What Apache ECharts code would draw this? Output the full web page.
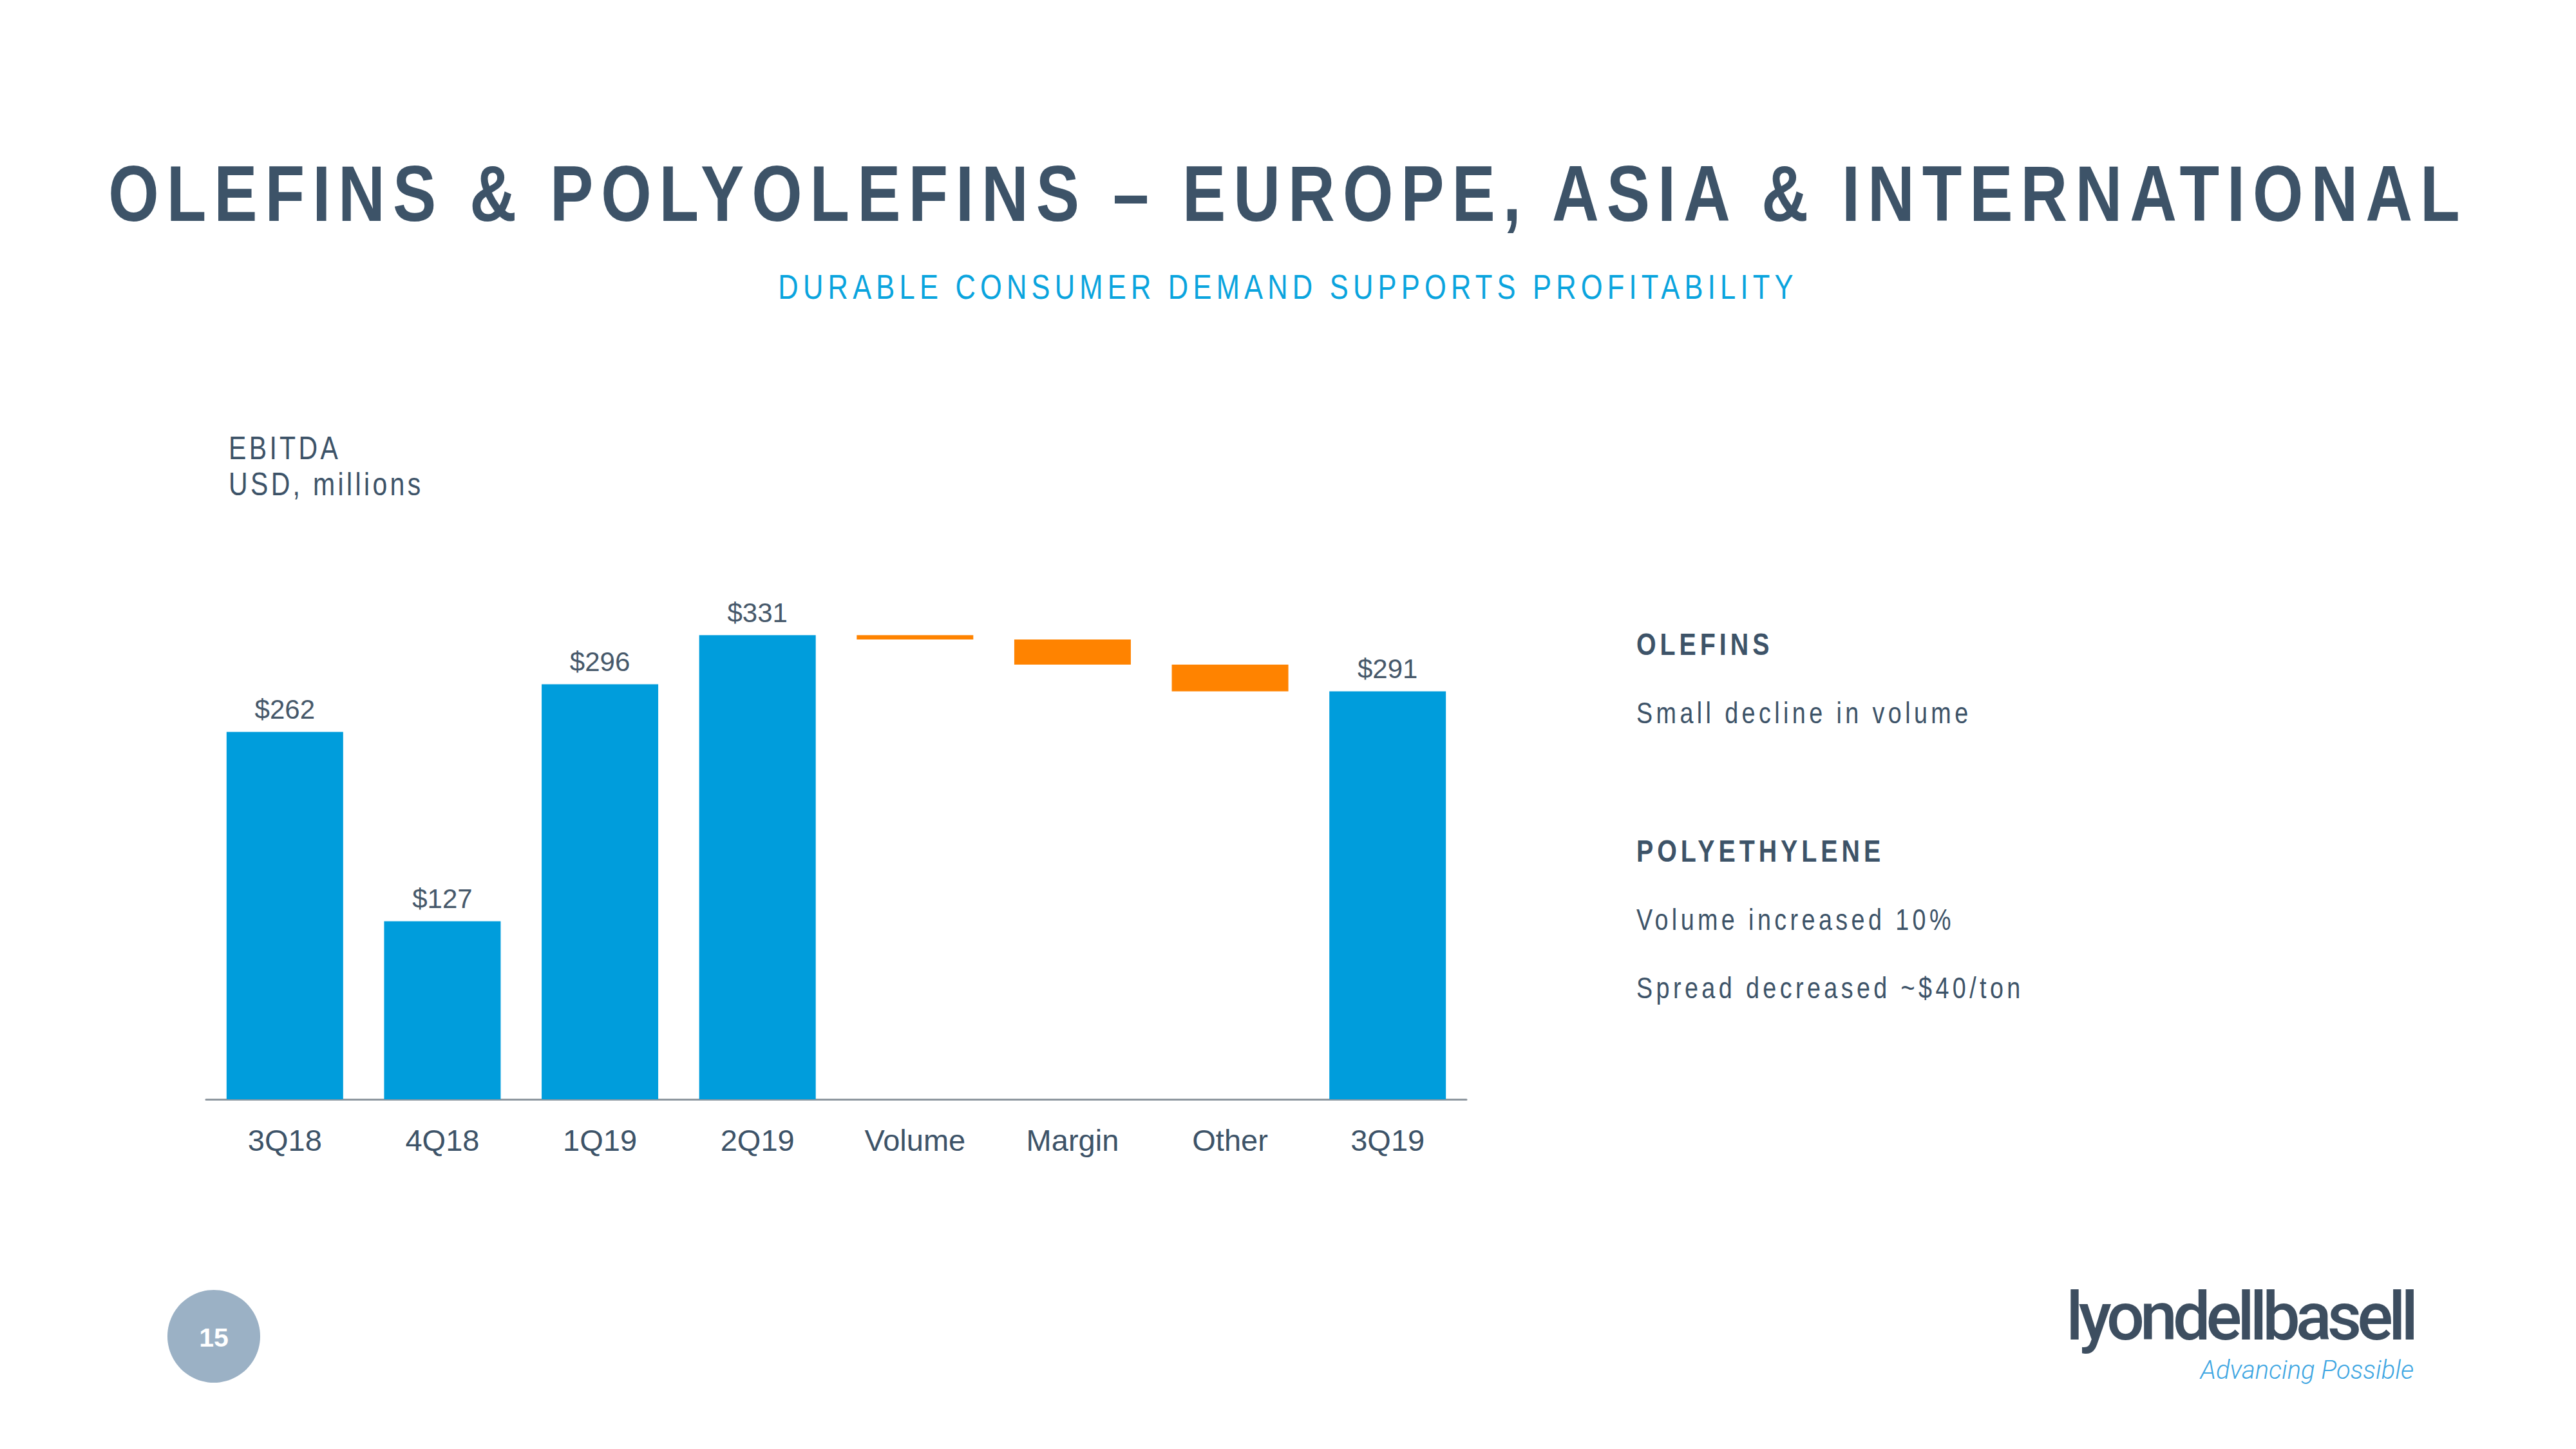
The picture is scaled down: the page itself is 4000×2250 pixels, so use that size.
<!DOCTYPE html>
<html>
<head>
<meta charset="utf-8">
<script src="https://cdn.jsdelivr.net/npm/echarts@6/dist/echarts.min.js"></script>
<style>
  html, body { margin: 0; padding: 0; background: #ffffff; }
  #c { width: 4000px; height: 2250px; }
  /* letter spacing (in unscaled units) for the slide texts */
  #c svg text[style*="123px"] { letter-spacing: 14.6px; }
  #c svg text[style*="53px"] { letter-spacing: 8.8px; }
  #c svg text[style*="50px"] { letter-spacing: 5.3px; }
  #c svg text[style*="48px"] { letter-spacing: 7.3px; }
  #c svg text[style*="46px"] { letter-spacing: 6.6px; }
  #c svg text[style*="104px"] { letter-spacing: -7px; }
</style>
</head>
<body>
<div id="c"></div>
<script>
// ---- data ----
const categories = ['3Q18', '4Q18', '1Q19', '2Q19', 'Volume', 'Margin', 'Other', '3Q19'];
const totals     = [262, 127, 296, 331, null, null, null, 291];
const changes    = [null, null, null, null, -3, -18, -19, null];
const titleText    = 'OLEFINS & POLYOLEFINS – EUROPE, ASIA & INTERNATIONAL';
const subtitleText = 'DURABLE CONSUMER DEMAND SUPPORTS PROFITABILITY';
const unitLines    = ['EBITDA', 'USD, millions'];
const noteHeads    = ['OLEFINS', 'POLYETHYLENE'];
const noteLines    = ['Small decline in volume', 'Volume increased 10%', 'Spread decreased ~$40/ton'];

// ---- waterfall helpers built from the data ----
const baseData = [], totalData = [], deltaData = [];
let running = 0;
categories.forEach((c, i) => {
  if (totals[i] != null) {
    running = totals[i];
    baseData.push('-'); totalData.push(totals[i]); deltaData.push('-');
  } else {
    const d = changes[i];
    const next = running + d;
    baseData.push(Math.min(running, next));
    totalData.push('-');
    deltaData.push(Math.abs(d));
    running = next;
  }
});

const SANS = "'Liberation Sans', Arial, Helvetica, sans-serif";
const SLATE = '#3D5368';
const NX = 0.82; // horizontal condensing to mimic a narrow face

function txt(x, y, text, size, opts) {
  opts = opts || {};
  return {
    type: 'text', x: x, y: y, scaleX: opts.scaleX == null ? NX : opts.scaleX, originX: 0, originY: 0,
    style: {
      text: text, fill: opts.fill || SLATE, fontSize: size,
      fontWeight: opts.weight || 'normal', fontStyle: opts.style || 'normal',
      fontFamily: opts.family || SANS,
      textAlign: opts.align || 'left', textVerticalAlign: 'middle'
    }
  };
}

const chart = echarts.init(document.getElementById('c'), null, { renderer: 'svg', width: 4000, height: 2250 });
chart.setOption({
  animation: false,
  backgroundColor: '#ffffff',
  grid: { left: 320, width: 1957, top: 945, bottom: 543, containLabel: false },
  xAxis: {
    type: 'category',
    data: categories,
    axisLine: { show: true, lineStyle: { color: '#8E979F', width: 3 } },
    axisTick: { show: false },
    axisLabel: { color: SLATE, fontSize: 47, fontFamily: SANS, margin: 40 }
  },
  yAxis: { type: 'value', min: 0, max: 350, show: false, splitLine: { show: false } },
  series: [
    {
      name: 'base', type: 'bar', stack: 'w', data: baseData, barWidth: 181,
      itemStyle: { color: 'rgba(0,0,0,0)' }, silent: true
    },
    {
      name: 'EBITDA', type: 'bar', stack: 'w', data: totalData, barWidth: 181,
      itemStyle: { color: '#009DDC' },
      label: {
        show: true, position: 'top', distance: 14,
        color: '#46586A', fontSize: 42, fontFamily: SANS,
        formatter: p => '$' + p.value
      }
    },
    {
      name: 'change', type: 'bar', stack: 'w', data: deltaData, barWidth: 181,
      itemStyle: { color: '#FF8300' }
    }
  ],
  graphic: [
    txt(2000, 300, titleText, 123, { weight: 'bold', align: 'center' }),
    txt(2000, 445, subtitleText, 53, { fill: '#0AA4DE', align: 'center' }),
    txt(355, 696, unitLines[0], 50),
    txt(355, 752, unitLines[1], 50),
    txt(2541, 1000, noteHeads[0], 48, { weight: 'bold' }),
    txt(2541, 1107, noteLines[0], 46),
    txt(2541, 1321, noteHeads[1], 48, { weight: 'bold' }),
    txt(2541, 1428, noteLines[1], 46),
    txt(2541, 1534, noteLines[2], 46),
    { type: 'circle', shape: { cx: 332, cy: 2075, r: 72 }, style: { fill: '#9BB1C5' } },
    txt(332, 2077, '15', 41, { fill: '#ffffff', weight: 'bold', align: 'center', scaleX: 1 }),
    txt(3748, 2044, 'lyondellbasell', 104, { fill: '#3D4E60', weight: 500, family: 'Roboto, sans-serif', align: 'right', scaleX: 1 }),
    txt(3748, 2127, 'Advancing Possible', 40, { fill: '#3EA6E2', weight: 300, style: 'italic', family: 'Roboto, sans-serif', align: 'right', scaleX: 1 })
  ]
});
</script>
</body>
</html>
